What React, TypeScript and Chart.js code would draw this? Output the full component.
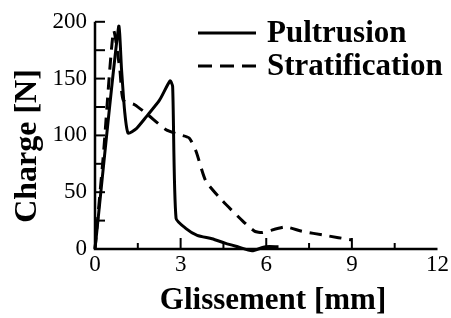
import React, { useEffect, useRef } from "react";
import { Chart, registerables } from "chart.js";

Chart.register(...registerables);

const pultrusionX = [0, 0.83, 0.93, 1.04, 1.16, 1.45, 1.8, 2.26, 2.63, 2.72, 2.84, 3.19, 3.58, 4.1, 4.58, 5.0, 5.5, 5.97, 6.43];
const pultrusionY = [0, 196, 158, 121, 102, 106, 116.5, 131, 148, 143, 27, 18, 12, 9, 5, 2, -1.5, 2, 2];

const stratX = [0, 0.3, 0.65, 0.87, 0.99, 1.39, 1.86, 2.49, 2.96, 3.3, 3.54, 3.88, 4.46, 5.16, 5.6, 5.86, 6.67, 7.25, 8.06, 9.0];
const stratY = [0, 85, 192, 158, 131, 127, 118, 105, 100.6, 97.7, 86, 60, 42.6, 25, 15.5, 14.5, 19.4, 15.6, 12, 8];

const seriesNames = ["Pultrusion", "Stratification"];
const xTickLabels = ["0", "3", "6", "9", "12"];
const yTickLabels = ["0", "50", "100", "150", "200"];
const xTitle = "Glissement [mm]";
const yTitle = "Charge [N]";

const FONT = "'Liberation Serif', 'Times New Roman', serif";

const axesPlugin = {
  id: "customAxes",
  afterDraw(chart: any) {
    const { ctx, scales } = chart;
    const xs = scales.x;
    const ys = scales.y;
    const x0 = xs.getPixelForValue(0);
    const x12 = xs.getPixelForValue(12);
    const y0 = ys.getPixelForValue(0);
    const y200 = ys.getPixelForValue(200);
    ctx.save();
    ctx.strokeStyle = "#000";
    ctx.lineWidth = 2.5;
    ctx.lineCap = "butt";
    ctx.beginPath();
    ctx.moveTo(x0, y200);
    ctx.lineTo(x0, y0);
    ctx.lineTo(x12, y0);
    ctx.stroke();
    ctx.lineWidth = 2;
    for (let v = 1.5; v < 12; v += 1.5) {
      const px = xs.getPixelForValue(v);
      const major = Math.abs(v / 3 - Math.round(v / 3)) < 1e-6;
      ctx.beginPath();
      ctx.moveTo(px, y0);
      ctx.lineTo(px, y0 - (major ? 11 : 6));
      ctx.stroke();
    }
    for (let v = 25; v <= 200; v += 25) {
      const py = ys.getPixelForValue(v);
      ctx.beginPath();
      ctx.moveTo(x0, py);
      ctx.lineTo(x0 + 10, py);
      ctx.stroke();
    }
    // axis titles
    ctx.fillStyle = "#000";
    ctx.textAlign = "center";
    ctx.textBaseline = "middle";
    ctx.font = `bold 31px ${FONT}`;
    ctx.fillText(xTitle, 273, 301);
    ctx.save();
    ctx.translate(28, 146);
    ctx.rotate(-Math.PI / 2);
    ctx.font = `bold 32px ${FONT}`;
    ctx.fillText(yTitle, 0, 0);
    ctx.restore();
    // legend
    const items = [
      { name: seriesNames[0], dash: [] as number[], y: 33 },
      { name: seriesNames[1], dash: [14, 8], y: 66 },
    ];
    ctx.lineWidth = 3;
    ctx.font = `bold 31px ${FONT}`;
    ctx.textBaseline = "middle";
    ctx.textAlign = "left";
    for (const it of items) {
      ctx.setLineDash(it.dash);
      ctx.beginPath();
      ctx.moveTo(198, it.y);
      ctx.lineTo(256, it.y);
      ctx.stroke();
      ctx.setLineDash([]);
      ctx.fillText(it.name, 267, it.y + 1);
    }
    ctx.restore();
  },
};

export default function App() {
  const ref = useRef<HTMLCanvasElement | null>(null);
  useEffect(() => {
    if (!ref.current) return;
    const chart = new Chart(ref.current, {
      type: "line",
      data: {
        datasets: [
          {
            label: seriesNames[0],
            data: pultrusionX.map((x, i) => ({ x, y: pultrusionY[i] })),
            borderColor: "#000",
            borderWidth: 3,
            pointRadius: 0,
            tension: 0.2,
            clip: 10,
          },
          {
            label: seriesNames[1],
            data: stratX.map((x, i) => ({ x, y: stratY[i] })),
            borderColor: "#000",
            borderWidth: 3,
            borderDash: [12, 8],
            pointRadius: 0,
            tension: 0.2,
            clip: 10,
          },
        ],
      },
      options: {
        responsive: false,
        animation: false,
        layout: { padding: { top: 19, right: 11, left: 0, bottom: 0 } },
        plugins: { legend: { display: false }, tooltip: { enabled: false } },
        scales: {
          x: {
            type: "linear",
            min: 0,
            max: 12,
            afterBuildTicks: (s: any) => {
              s.ticks = xTickLabels.map((l) => ({ value: Number(l) }));
            },
            ticks: {
              color: "#000",
              font: { family: FONT, size: 23 },
              padding: 2,
              maxRotation: 0,
              autoSkip: false,
              callback: (v: any) => String(v),
            },
            grid: { display: false, drawTicks: false },
            border: { display: false },
            title: { display: false },
            afterFit: (s: any) => {
              s.height = 69;
            },
          },
          y: {
            type: "linear",
            min: 0,
            max: 200,
            afterBuildTicks: (s: any) => {
              s.ticks = yTickLabels.map((l) => ({ value: Number(l) }));
            },
            ticks: {
              color: "#000",
              font: { family: FONT, size: 23 },
              padding: 8,
              autoSkip: false,
              callback: (v: any) => String(v),
            },
            grid: { display: false, drawTicks: false },
            border: { display: false },
            title: { display: false },
            afterFit: (s: any) => {
              s.width = 95;
            },
          },
        },
      },
      plugins: [axesPlugin],
    });
    return () => chart.destroy();
  }, []);
  return (
    <div style={{ position: "absolute", left: 0, top: 0, width: 451, height: 318, background: "#fff" }}>
      <canvas ref={ref} width={451} height={318} />
    </div>
  );
}
